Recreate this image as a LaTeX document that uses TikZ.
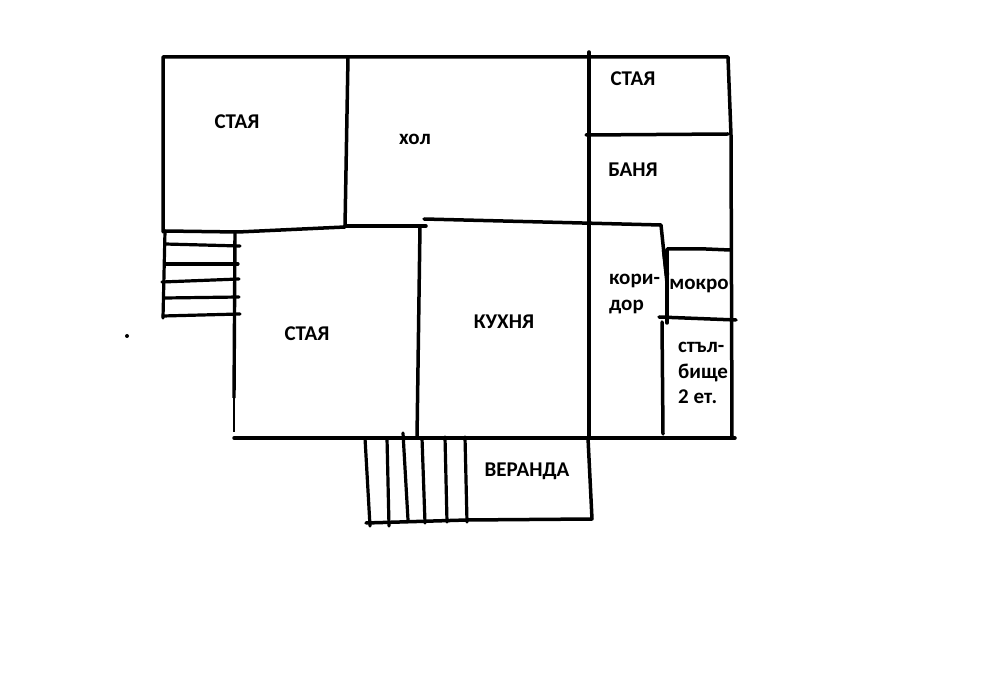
\documentclass[tikz,border=0pt]{standalone}
\usepackage{fontspec}
\setmainfont{Carlito}
\tikzset{wall/.style={line width=3.5pt,line cap=round,line join=round},
  thinwall/.style={line width=3.2pt,line cap=round},
  room/.style={font=\bfseries\fontsize{21}{25.5}\selectfont,align=center,inner sep=0pt}}
\begin{document}
\begin{tikzpicture}[x=1pt,y=-1pt]
\useasboundingbox (0,0) rectangle (986,700);
% outer walls
\draw[wall](163,232)--(163,57)--(728,57)--(731,135)--(732,438);
\draw[wall](735,438)--(234,438);
\draw[line width=3.4pt](235,232)--(234,398);
\draw[line width=2pt](234,398)--(234,432);
\draw[wall](165,231)--(238,232)--(345,227)--(348,57);
\draw[wall](345,226)--(426,226);
\draw[wall](424,219)--(661,225)--(667,283);
\draw[line width=4.5pt](664,250)--(667,275);
\draw[wall](420,226)--(417,438);
\draw[wall](589,52)--(589,438);
\draw[wall](586,135)--(728,134);
\draw[wall](667,249)--(706,249)--(730,250);
\draw[wall](667,250)--(667,323);
\draw[wall](659,317)--(736,320);
\draw[wall](662,322)--(663,434);
% stairs left
\draw[thinwall](165,231)--(163,318);
\draw[thinwall](165,244)--(240,246);
\draw[thinwall](165,264)--(238,264);
\draw[thinwall](162,282)--(239,279);
\draw[thinwall](165,298)--(239,297);
\draw[thinwall](163,316)--(240,314);
% veranda
\draw[wall](588,438)--(592,519)--(467,520)--(366,523);
\draw[thinwall](365,438)--(370,526);
\draw[thinwall](387,438)--(389,526);
\draw[thinwall](403,433)--(408,520);
\draw[thinwall](422,438)--(425,523);
\draw[thinwall](445,437)--(447,522);
\draw[thinwall](465,437)--(467,522);
\fill (127,336) circle(2pt);
% labels
\node[room] (room1) at (237,122) {СТАЯ};
\node[room] (hall) at (415,139) {хол};
\node[room] (room2) at (633,79) {СТАЯ};
\node[room] (bath) at (633,170) {БАНЯ};
\node[room] (room3) at (307,334) {СТАЯ};
\node[room] (kitchen) at (504,322) {КУХНЯ};
\node[room,align=left,anchor=west] (corr) at (609,294) {кори-\\дор};
\node[room] (wet) at (699,286) {мокро};
\node[room,align=left,anchor=west] (stairs) at (678,373) {стъл-\\бище\\2 ет.};
\node[room] (veranda) at (527,471) {ВЕРАНДА};
\end{tikzpicture}
\end{document}
